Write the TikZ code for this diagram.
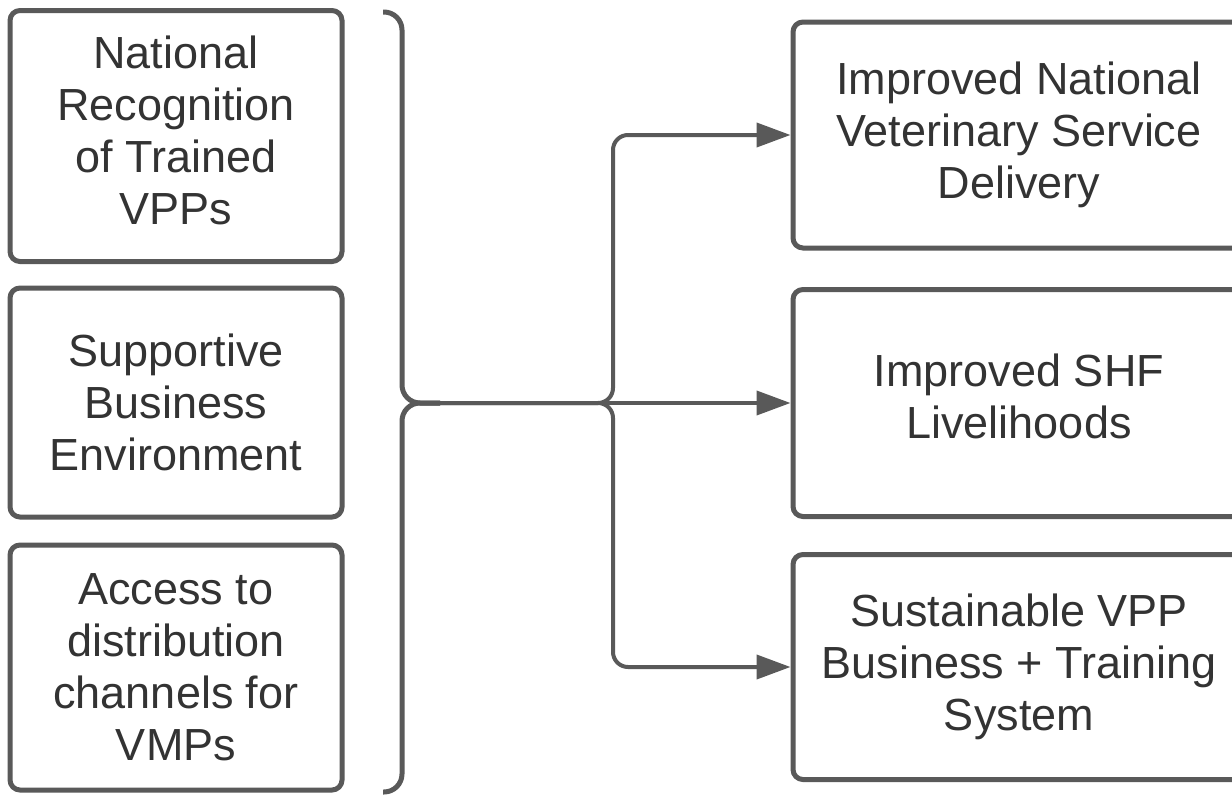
\documentclass[tikz,border=0pt]{standalone}
\usepackage{fontspec}
\setmainfont{Liberation Sans}
\usetikzlibrary{arrows.meta}
\definecolor{linegray}{HTML}{595959}
\definecolor{textgray}{HTML}{333333}
\tikzset{
  box/.style={draw=linegray, line width=5pt, rounded corners=10pt, fill=white,
    inner sep=0pt, align=center, text=textgray,
    font=\fontsize{45}{52}\selectfont},
  leftbox/.style={box, minimum width=332pt, minimum height=#1},
  rightbox/.style={box, minimum width=452pt, minimum height=#1},
  bracepath/.style={draw=linegray, line width=5pt, rounded corners=18pt},
  conn/.style={draw=linegray, line width=4pt, rounded corners=15pt,
    -{Triangle[length=34pt,width=24pt]}},
}
\begin{document}
\begin{tikzpicture}[x=1pt,y=-1pt]
\useasboundingbox (0,0) rectangle (1232,795);
\fill[white] (0,0) rectangle (1232,795);
\clip (0,0) rectangle (1232,795);

% left boxes
\node[leftbox=251pt] (l1) at (176,136) {National\\Recognition\\of Trained\\VPPs\\[-40pt]};
\node[leftbox=229pt] (l2) at (176,402.5) {Supportive\\Business\\Environment};
\node[leftbox=245pt] (l3) at (176,667.5) {Access to\\distribution\\channels for\\VMPs};

% right boxes
\node[rightbox=226pt] (r1) at (1019,135) {Improved National\\Veterinary Service\\Delivery};
\node[rightbox=227pt] (r2) at (1019,403) {Improved SHF\\Livelihoods\\[-38pt]};
\node[rightbox=225pt] (r3) at (1019,667) {Sustainable VPP\\Business + Training\\System};

% brace
\coordinate (btop) at (383,12);
\coordinate (bbot) at (383,792);
\coordinate (bmid) at (402,403);
\coordinate (btip) at (440,403);
\coordinate (j) at (613,403);
\draw[bracepath] (btop) -- (402,12) -- (bmid) -- (btip);
\draw[bracepath] (bbot) -- (402,792) -- (bmid) -- (btip);

% connectors
\draw[conn] (btip) -- (j) |- (r1.west);
\draw[conn] (btip) -- (r2.west);
\draw[conn] (btip) -- (j) |- (r3.west);
\end{tikzpicture}
\end{document}
